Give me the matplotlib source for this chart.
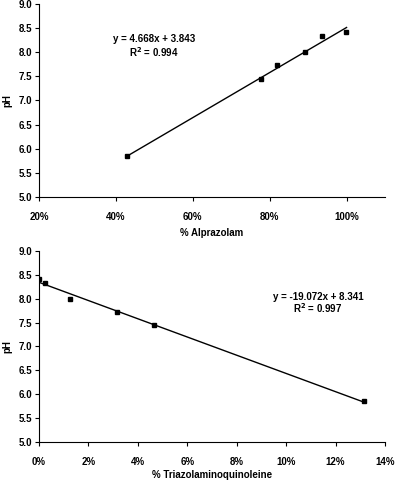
import matplotlib.pyplot as plt
from matplotlib.ticker import PercentFormatter
import numpy as np

# Alprazolam fraction vs pH
alp_x = [0.43, 0.778, 0.82, 0.892, 0.935, 0.998]
alp_y = [5.85, 7.45, 7.73, 8.00, 8.33, 8.42]
alp_fit = (4.668, 3.843)

# Triazolaminoquinoleine fraction vs pH
tri_x = [0.0, 0.0025, 0.0125, 0.0315, 0.0465, 0.1313]
tri_y = [8.42, 8.32, 8.00, 7.73, 7.45, 5.85]
tri_fit = (-19.072, 8.341)

plt.rcParams['font.family'] = 'Liberation Sans'
plt.rcParams['font.weight'] = 'bold'
plt.rcParams['font.size'] = 7

fig = plt.figure(figsize=(3.95, 4.84), dpi=100)
ax1 = fig.add_axes([0.0987, 0.593, 0.876, 0.399])
ax2 = fig.add_axes([0.0987, 0.0868, 0.876, 0.395])


def style(ax):
    for s in ['top', 'right']:
        ax.spines[s].set_visible(False)
    ax.set_ylim(5.0, 9.0)
    ax.set_yticks(np.arange(5.0, 9.01, 0.5))
    ax.yaxis.set_major_formatter(lambda v, p: f'{v:.1f}')
    ax.tick_params(direction='out', length=3, width=0.8, pad=2)
    ax.tick_params(axis='x', pad=8)
    ax.set_ylabel('pH', fontweight='bold', labelpad=4)
    ax.xaxis.set_major_formatter(PercentFormatter(1.0, decimals=0))


# top chart
ax1.plot(alp_x, alp_y, 's', color='black', markersize=3.5)
xs = np.array([alp_x[0], 1.0])
ax1.plot(xs, alp_fit[0] * xs + alp_fit[1], color='black', linewidth=1)
ax1.set_xlim(0.2, 1.1)
ax1.set_xticks([0.2, 0.4, 0.6, 0.8, 1.0])
style(ax1)
ax1.set_xlabel('% Alprazolam', fontweight='bold', labelpad=4)
ax1.text(0.5, 8.27, 'y = 4.668x + 3.843', ha='center', va='center')
ax1.text(0.5, 8.0, 'R$^2$ = 0.994', ha='center', va='center')

# bottom chart
ax2.plot(tri_x, tri_y, 's', color='black', markersize=3.5)
xs = np.array([0.0, tri_x[-1]])
ax2.plot(xs, tri_fit[0] * xs + tri_fit[1], color='black', linewidth=1)
ax2.set_xlim(0.0, 0.14)
ax2.set_xticks(np.arange(0, 0.141, 0.02))
style(ax2)
ax2.set_xlabel('% Triazolaminoquinoleine', fontweight='bold', labelpad=2)
ax2.text(0.1129, 8.03, 'y = -19.072x + 8.341', ha='center', va='center')
ax2.text(0.1129, 7.80, 'R$^2$ = 0.997', ha='center', va='center')

plt.savefig('out.png', dpi=100)
